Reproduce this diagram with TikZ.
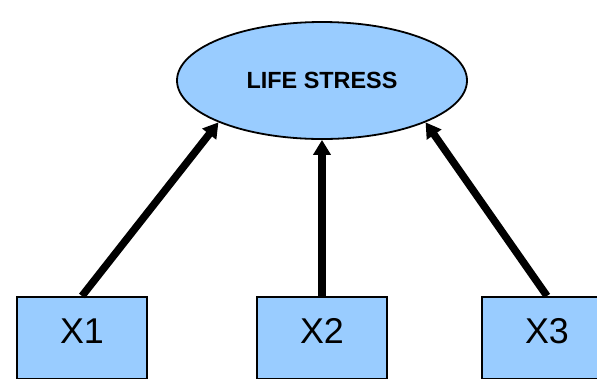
\documentclass[tikz,border=0pt]{standalone}
\usepackage{fontspec}
\setmainfont{Liberation Sans}
\usetikzlibrary{shapes.geometric,arrows.meta}
\definecolor{factorblue}{HTML}{99CCFF}
\tikzset{
  latent/.style={ellipse, draw, fill=factorblue, line width=1.8bp, minimum width=290bp, minimum height=117bp, inner sep=0pt, font=\fontsize{23.5}{28}\selectfont\bfseries},
  indicator/.style={rectangle, draw, fill=factorblue, line width=2bp, minimum width=130bp, minimum height=82bp, inner sep=0pt, text depth=14bp, font=\fontsize{36}{40}\selectfont},
  loading/.style={line width=7.5bp, -{Triangle[length=15bp,width=17bp]}}
}
\begin{document}
\begin{tikzpicture}[x=1bp,y=-1bp]
        \useasboundingbox (0,0) rectangle (597,378);
        \node[latent] (stress) at (322,80.5) {LIFE STRESS};
        \node[indicator] (x1) at (82,338) {X1};
        \node[indicator] (x2) at (322,338) {X2};
        \node[indicator] (x3) at (547,338) {X3};
        \draw[loading] (x1.north) -- (stress.202);
        \draw[loading] (x2.north) -- (stress.south);
        \draw[loading] (x3.north) -- (stress.338);
      \end{tikzpicture}
\end{document}
